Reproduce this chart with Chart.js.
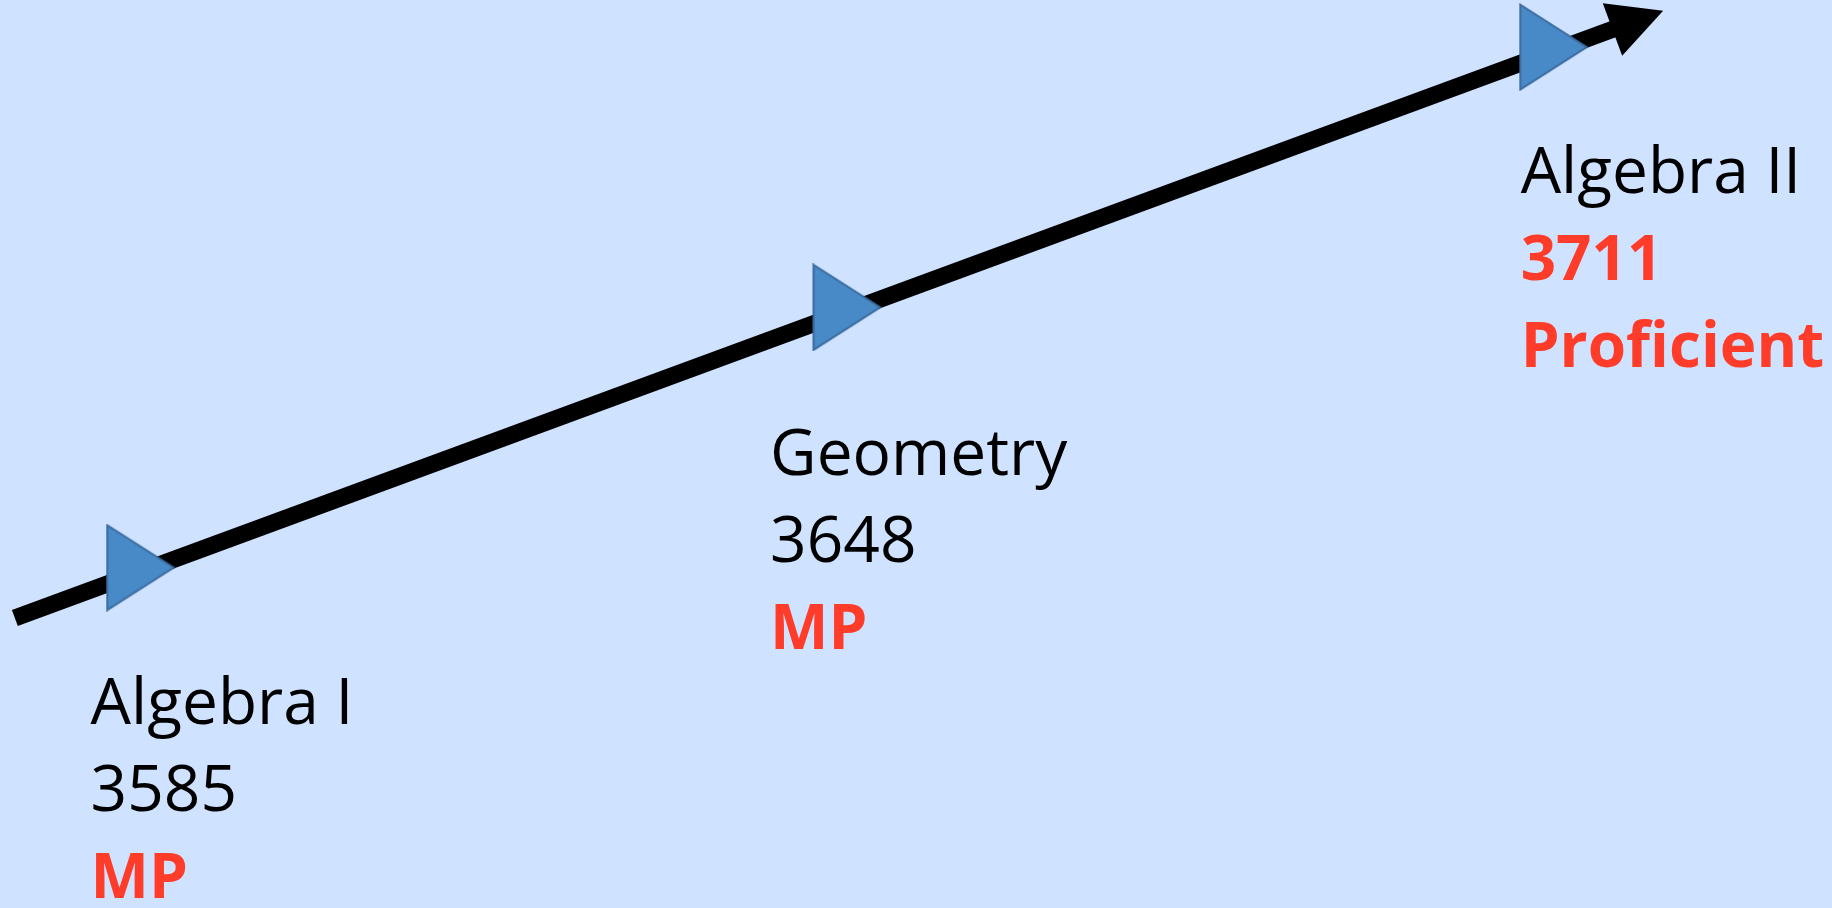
<!DOCTYPE html>
<html>
<head>
<meta charset="utf-8">
<script src="https://cdn.jsdelivr.net/npm/chart.js@4.4.1/dist/chart.umd.min.js"></script>
<style>
  html, body { margin: 0; padding: 0; background: #cfe2ff; }
  #wrap { width: 1832px; height: 908px; position: relative; background: #cfe2ff; }
</style>
</head>
<body>
<div id="wrap"><canvas id="chart"></canvas></div>
<script>
// course sequence, scale score and performance level
const courses = ['Algebra I', 'Geometry', 'Algebra II']
const steps = [0, 1, 2]
const scores = [3585, 3648, 3711]
const levels = ['MP', 'MP', 'Proficient']

const RED = '#ff3b29'
const FONT = '"Open Sans", "Noto Sans", sans-serif'
// where each text block sits relative to its marker (dx, dy of first baseline)
const labelOffsets = [[-50, 156], [-77, 168], [-33, 146]]
const lineGap = 87

// blue right-pointing triangle used as the point marker
function makeTriangle () {
  const c = document.createElement('canvas')
  c.width = 70
  c.height = 88
  const g = c.getContext('2d')
  g.beginPath()
  g.moveTo(1.5, 1.5)
  g.lineTo(68, 44)
  g.lineTo(1.5, 86.5)
  g.closePath()
  g.fillStyle = '#4889c8'
  g.fill()
  g.lineWidth = 2
  g.strokeStyle = '#3a6b9e'
  g.stroke()
  return c
}

// thick black arrow drawn through the score points, extended past both ends
const arrowPlugin = {
  id: 'arrow',
  beforeDatasetsDraw (chart) {
    const ctx = chart.ctx
    const pts = chart.getDatasetMeta(0).data
    const a = pts[0]
    const b = pts[pts.length - 1]
    const span = (b.x - a.x) / (pts.length - 1)
    const slope = (b.y - a.y) / (b.x - a.x)
    const x0 = a.x - span * 0.178
    const x1 = b.x + span * 0.155
    const y0 = a.y + (x0 - a.x) * slope + 4
    const y1 = a.y + (x1 - a.x) * slope + 4
    const ang = Math.atan2(y1 - y0, x1 - x0)
    const headLen = 54
    const headHalf = 28
    const bx = x1 - Math.cos(ang) * headLen
    const by = y1 - Math.sin(ang) * headLen
    ctx.save()
    ctx.strokeStyle = '#000'
    ctx.lineWidth = 17
    ctx.lineCap = 'butt'
    ctx.beginPath()
    ctx.moveTo(x0, y0)
    ctx.lineTo(bx + Math.cos(ang) * 4, by + Math.sin(ang) * 4)
    ctx.stroke()
    ctx.fillStyle = '#000'
    ctx.beginPath()
    ctx.moveTo(x1, y1)
    ctx.lineTo(bx + Math.sin(ang) * headHalf, by - Math.cos(ang) * headHalf)
    ctx.lineTo(bx - Math.sin(ang) * headHalf, by + Math.cos(ang) * headHalf)
    ctx.closePath()
    ctx.fill()
    ctx.restore()
  }
}

// course name, score and level under each marker
const labelPlugin = {
  id: 'courseLabels',
  afterDatasetsDraw (chart) {
    const ctx = chart.ctx
    const pts = chart.getDatasetMeta(0).data
    ctx.save()
    ctx.textAlign = 'left'
    ctx.textBaseline = 'alphabetic'
    pts.forEach((p, i) => {
      const x = p.x + labelOffsets[i][0]
      const y = p.y + labelOffsets[i][1]
      const top = levels[i] === 'Proficient'
      ctx.font = '64px ' + FONT
      ctx.fillStyle = '#000'
      ctx.fillText(courses[i], x, y)
      ctx.font = top ? 'bold 62px ' + FONT : '64px ' + FONT
      ctx.fillStyle = top ? RED : '#000'
      ctx.fillText(String(scores[i]), x, y + lineGap)
      ctx.font = 'bold 62px ' + FONT
      ctx.fillStyle = RED
      ctx.fillText(levels[i], x, y + lineGap * 2)
    })
    ctx.restore()
  }
}

const data = {
  datasets: [
    {
      label: 'Scale score',
      data: steps.map((s, i) => ({ x: s, y: scores[i] })),
      showLine: false,
      pointStyle: makeTriangle(),
      pointRadius: 40,
      clip: false
    }
  ]
}

const config = {
  type: 'scatter',
  data,
  options: {
    responsive: true,
    maintainAspectRatio: false,
    animation: false,
    events: [],
    layout: { padding: 0, autoPadding: false },
    plugins: {
      legend: { display: false },
      tooltip: { enabled: false }
    },
    scales: {
      x: { type: 'linear', display: false, min: -0.199, max: 2.394 },
      y: { type: 'linear', display: false, min: 3502.6, max: 3722.4 }
    }
  },
  plugins: [arrowPlugin, labelPlugin]
}

new Chart(document.getElementById('chart').getContext('2d'), config)
</script>
</body>
</html>
